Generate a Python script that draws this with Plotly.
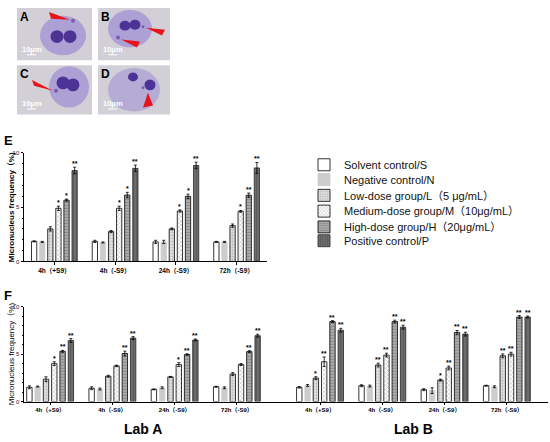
import plotly.graph_objects as go

W, H = 550, 442

# ---- data ----
times = ["4h（+S9）", "4h（-S9）", "24h（-S9）", "72h（-S9）"]
groups = ["Solvent control/S", "Negative control/N", "Low-dose group/L（5 μg/mL）",
          "Medium-dose group/M（10μg/mL）", "High-dose group/H（20μg/mL）", "Positive control/P"]

# panel E : one row per group, one value per time point
e_vals = [[1.85, 1.85, 1.80, 1.80],
          [1.80, 1.75, 1.80, 1.80],
          [3.00, 2.75, 3.00, 3.30],
          [4.90, 4.90, 4.65, 4.62],
          [5.65, 6.12, 6.00, 6.10],
          [8.38, 8.58, 8.85, 8.62]]
e_err = [[0.05, 0.10, 0.15, 0.05],
         [0.05, 0.05, 0.15, 0.05],
         [0.20, 0.10, 0.08, 0.15],
         [0.20, 0.20, 0.10, 0.08],
         [0.10, 0.25, 0.20, 0.20],
         [0.30, 0.30, 0.30, 0.50]]
e_sig = [["", "", "", ""],
         ["", "", "", ""],
         ["", "", "", ""],
         ["*", "*", "*", "*"],
         ["*", "*", "*", "**"],
         ["**", "**", "**", "**"]]

# panel F, Lab A
a_vals = [[1.50, 1.40, 1.28, 1.56],
          [1.58, 1.32, 1.45, 1.45],
          [2.36, 2.67, 2.60, 2.90],
          [4.00, 3.76, 3.90, 3.90],
          [5.30, 5.07, 4.96, 5.27],
          [6.45, 6.70, 6.50, 6.95]]
a_err = [[0.15, 0.15, 0.05, 0.05],
         [0.05, 0.10, 0.10, 0.10],
         [0.25, 0.10, 0.05, 0.15],
         [0.20, 0.08, 0.20, 0.10],
         [0.10, 0.25, 0.08, 0.10],
         [0.20, 0.15, 0.10, 0.15]]
a_sig = [["", "", "", ""],
         ["", "", "", ""],
         ["", "", "", ""],
         ["*", "", "*", ""],
         ["**", "**", "**", "**"],
         ["**", "**", "**", "**"]]

# panel F, Lab B
b_vals = [[1.50, 1.67, 1.25, 1.67],
          [1.70, 1.63, 1.15, 1.56],
          [2.47, 3.85, 2.26, 4.83],
          [4.20, 4.90, 3.54, 5.00],
          [8.44, 8.44, 7.30, 8.92],
          [7.53, 7.85, 7.12, 8.92]]
b_err = [[0.08, 0.10, 0.10, 0.05],
         [0.10, 0.10, 0.30, 0.10],
         [0.15, 0.20, 0.10, 0.20],
         [0.50, 0.20, 0.20, 0.20],
         [0.10, 0.15, 0.20, 0.15],
         [0.20, 0.20, 0.20, 0.10]]
b_sig = [["", "", "", ""],
         ["", "", "", ""],
         ["*", "**", "*", "**"],
         ["**", "**", "**", "**"],
         ["**", "**", "**", "**"],
         ["**", "**", "**", "**"]]

# ---- styles ----
styles = [
    dict(color="white", fg="white", shape="", line="black"),
    dict(color="#cccccc", fg="#cccccc", shape="", line="#cccccc"),
    dict(color="#e2e2e2", fg="#8a8a8a", shape=".", line="black"),
    dict(color="white", fg="#7a7a7a", shape="x", line="black"),
    dict(color="#a9a9a9", fg="#707070", shape="-", line="black"),
    dict(color="#6c6c6c", fg="#4a4a4a", shape="|", line="#2a2a2a"),
]
FONT = "Liberation Sans, Arial, Noto Sans CJK SC"
BARGAP = 0.2


def px(x, y):
    return x / W, 1 - y / H


fig = go.Figure()
xs = list(range(len(times)))
panels = [("x", "y", e_vals, e_err, e_sig, True),
          ("x2", "y2", a_vals, a_err, a_sig, False),
          ("x3", "y3", b_vals, b_err, b_sig, False)]

for xa, ya, vals, errs, sigs, leg in panels:
    for i, g in enumerate(groups):
        st = styles[i]
        fig.add_trace(go.Bar(
            x=xs, y=vals[i], name=g, xaxis=xa, yaxis=ya,
            showlegend=leg, legend="legend" if i == 0 else f"legend{i+1}",
            marker=dict(color=st["color"], line=dict(color=st["line"], width=0.8),
                        pattern=dict(shape=st["shape"], fgcolor=st["fg"], bgcolor=st["color"],
                                     size=3, solidity=0.35, fillmode="overlay")),
            error_y=dict(type="data", array=errs[i], color="black", thickness=0.8, width=1.5),
        ))
        slot = (1 - BARGAP) / len(groups)
        off = -(1 - BARGAP) / 2 + (i + 0.5) * slot
        for j, s in enumerate(sigs[i]):
            if s:
                fig.add_annotation(x=xs[j] + off, y=vals[i][j] + errs[i][j], xref=xa, yref=ya,
                                   text=f"<b>{s}</b>", showarrow=False, yanchor="bottom",
                                   yshift=-2, font=dict(size=7, color="black", family=FONT))

# ---- axes ----
yE = [1 - 262 / H, 1 - 152 / H]
yF = [1 - 404 / H, 1 - 308 / H]
tick_common = dict(showline=True, linecolor="black", linewidth=1, ticks="outside",
                   ticklen=2.5, tickcolor="black", showgrid=False, zeroline=False)
ytick = dict(size=6, family=FONT, color="#222")
fig.update_layout(
    xaxis=dict(domain=[24 / W, 267 / W], range=[-0.5, 3.5], tickvals=xs,
               ticktext=[f"<b>{t}</b>" for t in times], tickfont=dict(size=6.5, family=FONT),
               anchor="y", **tick_common),
    yaxis=dict(domain=yE, range=[0, 10], tickvals=[0, 5, 10], tickfont=ytick,
               minor=dict(dtick=1, ticks="outside", ticklen=1.5, tickcolor="black"),
               anchor="x", **tick_common),
    xaxis2=dict(domain=[24 / W, 273 / W], range=[-0.42, 3.58], tickvals=xs,
                ticktext=[f"<b>{t}</b>" for t in times], tickfont=dict(size=6, family=FONT),
                anchor="y2", **tick_common),
    yaxis2=dict(domain=yF, range=[0, 10], tickvals=[0, 5, 10], tickfont=ytick,
                minor=dict(dtick=1, ticks="outside", ticklen=1.5, tickcolor="black"),
                anchor="x2", **tick_common),
    xaxis3=dict(domain=[273 / W, 548 / W], range=[-0.755, 3.66], tickvals=xs,
                ticktext=[f"<b>{t}</b>" for t in times], tickfont=dict(size=6, family=FONT),
                anchor="y3", **tick_common),
    yaxis3=dict(domain=yF, range=[0, 10], visible=False, anchor="x3"),
)

# ---- legends, one per row ----
leg_rows = [164, 179, 195, 211, 227, 241]
for i, yr in enumerate(leg_rows):
    lx, ly = px(304, yr)
    key = "legend" if i == 0 else f"legend{i+1}"
    fig.update_layout({key: dict(x=lx, y=ly, xanchor="left", yanchor="middle",
                                 bgcolor="rgba(0,0,0,0)", borderwidth=0, itemwidth=30,
                                 font=dict(size=11, color="#111", family=FONT))})

# ---- text annotations ----
def txt(x, y, t, size, bold=False, angle=0, color="black"):
    ax, ay = px(x, y)
    fig.add_annotation(x=ax, y=ay, xref="paper", yref="paper", showarrow=False,
                       text=f"<b>{t}</b>" if bold else t, textangle=angle,
                       xanchor="center", yanchor="middle",
                       font=dict(size=size, color=color, family=FONT))


txt(8, 139, "E", 13, bold=True)
txt(8, 297, "F", 13, bold=True)
txt(11, 207, "Micronucleus frequency（%)", 8, bold=True, angle=-90)
txt(11, 356, "Micronucleus frequency（%)", 8, angle=-90)
txt(143, 432, "Lab A", 14, bold=True)
txt(413, 432, "Lab B", 14, bold=True)

# ---- micrograph panels (drawn) ----
shapes = []


def rect(x0, y0, x1, y1, fill, line=None):
    a0, b0 = px(x0, y0)
    a1, b1 = px(x1, y1)
    shapes.append(dict(type="rect", xref="paper", yref="paper", x0=a0, y0=b1, x1=a1, y1=b0,
                       fillcolor=fill, line=dict(width=0 if line is None else 1, color=line or fill),
                       layer="below"))


def circ(cx, cy, rx, ry, fill, op=1.0):
    a0, b0 = px(cx - rx, cy - ry)
    a1, b1 = px(cx + rx, cy + ry)
    shapes.append(dict(type="circle", xref="paper", yref="paper", x0=a0, y0=b1, x1=a1, y1=b0,
                       fillcolor=fill, opacity=op, line=dict(width=0), layer="below"))


def tri(pts, fill="#e8141c"):
    p = [px(x, y) for x, y in pts]
    path = "M {} {} L {} {} L {} {} Z".format(p[0][0], p[0][1], p[1][0], p[1][1], p[2][0], p[2][1])
    shapes.append(dict(type="path", xref="paper", yref="paper", path=path,
                       fillcolor=fill, line=dict(width=0), layer="above"))


cyto = "#a294d4"
nuc = "#4e3396"
boxes = [(17, 5, 92, 58, "A"), (98, 5, 170, 58, "B"), (17, 63, 92, 113, "C"), (98, 63, 170, 113, "D")]
for x0, y0, x1, y1, lab in boxes:
    rect(x0, y0, x1, y1, "#d2d0d6")
# A
circ(63, 33, 23, 20, cyto, 0.8)
circ(57, 34, 6.5, 6.5, nuc)
circ(70, 34, 6.5, 6.5, nuc)
circ(73, 18, 2, 2, "#7a5cb0")
tri([(70, 17), (49, 9), (51, 16)])
# B
circ(130, 26, 22, 19, cyto, 0.8)
circ(125, 23, 5.5, 5, nuc)
circ(135, 22, 5.5, 5, nuc)
circ(143, 24, 1.5, 1.5, "#7a5cb0")
circ(118, 35, 2, 2, "#7a5cb0")
tri([(146, 25), (165, 27), (162, 33)])
tri([(121, 37), (140, 39), (137, 45)])
# C
circ(69, 85, 20, 21, cyto, 0.8)
circ(63, 81, 6.5, 6.5, nuc)
circ(73, 83, 6.5, 6.5, nuc)
circ(56, 89, 2, 2, "#7a5cb0")
tri([(53, 89), (32, 78), (34, 84)])
# D
circ(134, 88, 26, 22, cyto, 0.6)
circ(133, 75, 5, 4.5, nuc)
circ(150, 83, 5.5, 5.5, nuc)
circ(143, 86, 1.5, 1.5, "#7a5cb0")
tri([(148, 91), (143, 106), (153, 104)])
fig.update_layout(shapes=shapes)

for x0, y0, x1, y1, lab in boxes:
    txt(x0 + 7, y0 + 9, lab, 12, bold=True)
    txt(x0 + 15, y1 - 11, "10μm", 7.5, bold=True, color="white")
    a0, b0 = px(x0 + 10, y1 - 6)
    a1, b1 = px(x0 + 19, y1 - 5)
    fig.add_shape(type="rect", xref="paper", yref="paper", x0=a0, y0=b1, x1=a1, y1=b0,
                  fillcolor="white", line=dict(width=0))

fig.update_layout(
    width=W, height=H, margin=dict(l=0, r=0, t=0, b=0),
    paper_bgcolor="white", plot_bgcolor="white",
    barmode="group", bargap=BARGAP, bargroupgap=0.35,
    font=dict(family=FONT, color="black"),
)

# drop the browser's default page margin so the figure sits at the window corner
fig.write_html("out.html", config={"displayModeBar": False},
               post_script="document.body.style.margin='0';")
